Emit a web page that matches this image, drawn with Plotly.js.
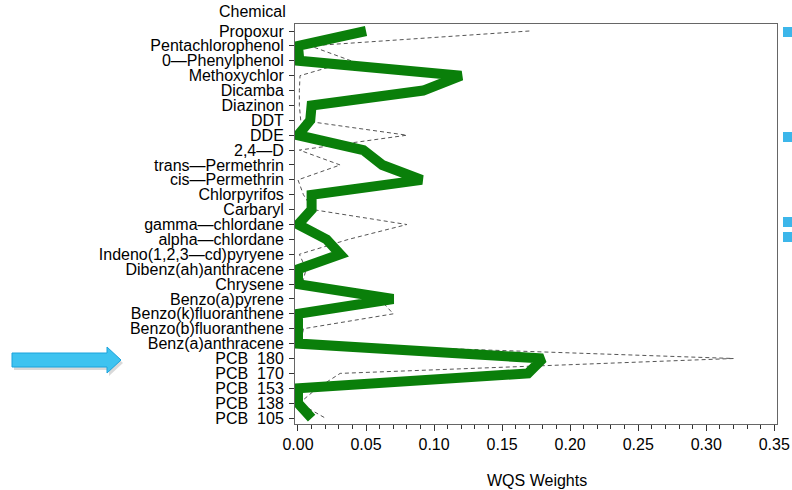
<!DOCTYPE html>
<html><head><meta charset="utf-8">
<script src="https://cdn.plot.ly/plotly-3.0.1.min.js"></script>
<style>html,body{margin:0;padding:0;background:#fff}#chart{width:792px;height:490px}</style>
</head><body><div id="chart"></div>
<script>
const chemicals = ["Propoxur","Pentachlorophenol","0\u2014Phenylphenol","Methoxychlor","Dicamba","Diazinon","DDT","DDE","2,4\u2014D","trans\u2014Permethrin","cis\u2014Permethrin","Chlorpyrifos","Carbaryl","gamma\u2014chlordane","alpha\u2014chlordane","Indeno(1,2,3\u2014cd)pyryene","Dibenz(ah)anthracene","Chrysene","Benzo(a)pyrene","Benzo(k)fluoranthene","Benzo(b)fluoranthene","Benz(a)anthracene","PCB  180","PCB  170","PCB  153","PCB  138","PCB  105"];
const wqsWeights = [0.050,0.000,0.001,0.120,0.092,0.010,0.009,0.000,0.048,0.062,0.091,0.010,0.010,0.000,0.021,0.031,0.000,0.000,0.070,0.000,0.000,0.000,0.180,0.169,0.000,0.000,0.010];
const compareWeights = [0.170,0.009,0.039,0.0015,0.001,0.001,0.002,0.080,0.001,0.031,0.000,0.004,0.011,0.080,0.037,0.001,0.006,0.003,0.060,0.070,0.004,0.002,0.320,0.031,0.014,0.001,0.020];
const xTickVals = [0,0.05,0.10,0.15,0.20,0.25,0.30,0.35];

const L=295,R=777,T=24,B=424,W=792,H=490;
const px=x=>(x-L)/(R-L), py=y=>(B-y)/(B-T);

const traces=[
 {x:compareWeights,y:chemicals,type:'scatter',mode:'lines',line:{color:'#555',width:1,dash:'4px,3px'},hoverinfo:'skip'},
 {x:wqsWeights,y:chemicals,type:'scatter',mode:'lines',line:{color:'#0a7f0a',width:10},hoverinfo:'skip'}
];

function toPath(p){return 'M'+p.map(q=>px(q[0])+','+py(q[1])).join(' L')+' Z';}
const arrowPts=[[12,353],[107,353],[107,347],[121,360],[107,373],[107,367],[12,367]];
const shadowPts=arrowPts.map(q=>[q[0]+2,q[1]+3]);
const squares=[[27,37],[132,142],[217,227],[232,242]].map(s=>({type:'rect',xref:'paper',yref:'paper',x0:px(783),x1:px(792),y0:py(s[1]),y1:py(s[0]),fillcolor:'#3cb6ea',line:{width:0}}));

const layout={
 width:W,height:H,margin:{l:L,r:W-R,t:T,b:H-B},
 paper_bgcolor:'#fff',plot_bgcolor:'#fff',showlegend:false,
 font:{family:'Liberation Sans, Arial, sans-serif',size:16,color:'#000'},
 xaxis:{range:[-0.0022,0.352],tickvals:xTickVals,tickformat:'.2f',ticks:'outside',ticklen:6,tickcolor:'#333',
   minor:{dtick:0.01,tick0:0,ticks:'outside',ticklen:4,tickcolor:'#333'},
   showgrid:false,zeroline:false,showline:true,linecolor:'#666',linewidth:1,mirror:true,
   tickfont:{size:16,color:'#000'}},
 yaxis:{type:'category',categoryorder:'array',categoryarray:chemicals,range:[26.4,-0.47],
   tickmode:'array',tickvals:chemicals,ticktext:chemicals,
   ticks:'outside',ticklen:5,tickcolor:'#333',showgrid:false,zeroline:false,showline:true,linecolor:'#666',linewidth:1,mirror:true,
   tickfont:{size:16,color:'#000'},ticklabelstandoff:2},
 annotations:[
  {text:'Chemical',xref:'paper',yref:'paper',x:px(288),y:py(11),xanchor:'right',yanchor:'middle',showarrow:false,font:{size:16}},
  {text:'WQS Weights',xref:'paper',yref:'paper',x:px(537),y:py(480),xanchor:'center',yanchor:'middle',showarrow:false,font:{size:16}}
 ],
 shapes:[
  {type:'path',xref:'paper',yref:'paper',path:toPath(shadowPts),fillcolor:'rgba(0,0,0,0.15)',line:{width:0}},
  {type:'path',xref:'paper',yref:'paper',path:toPath(arrowPts),fillcolor:'#3ec3f0',line:{color:'#1aa3dc',width:1}}
 ].concat(squares)
};
Plotly.newPlot('chart',traces,layout,{staticPlot:true,displayModeBar:false});
</script></body></html>
